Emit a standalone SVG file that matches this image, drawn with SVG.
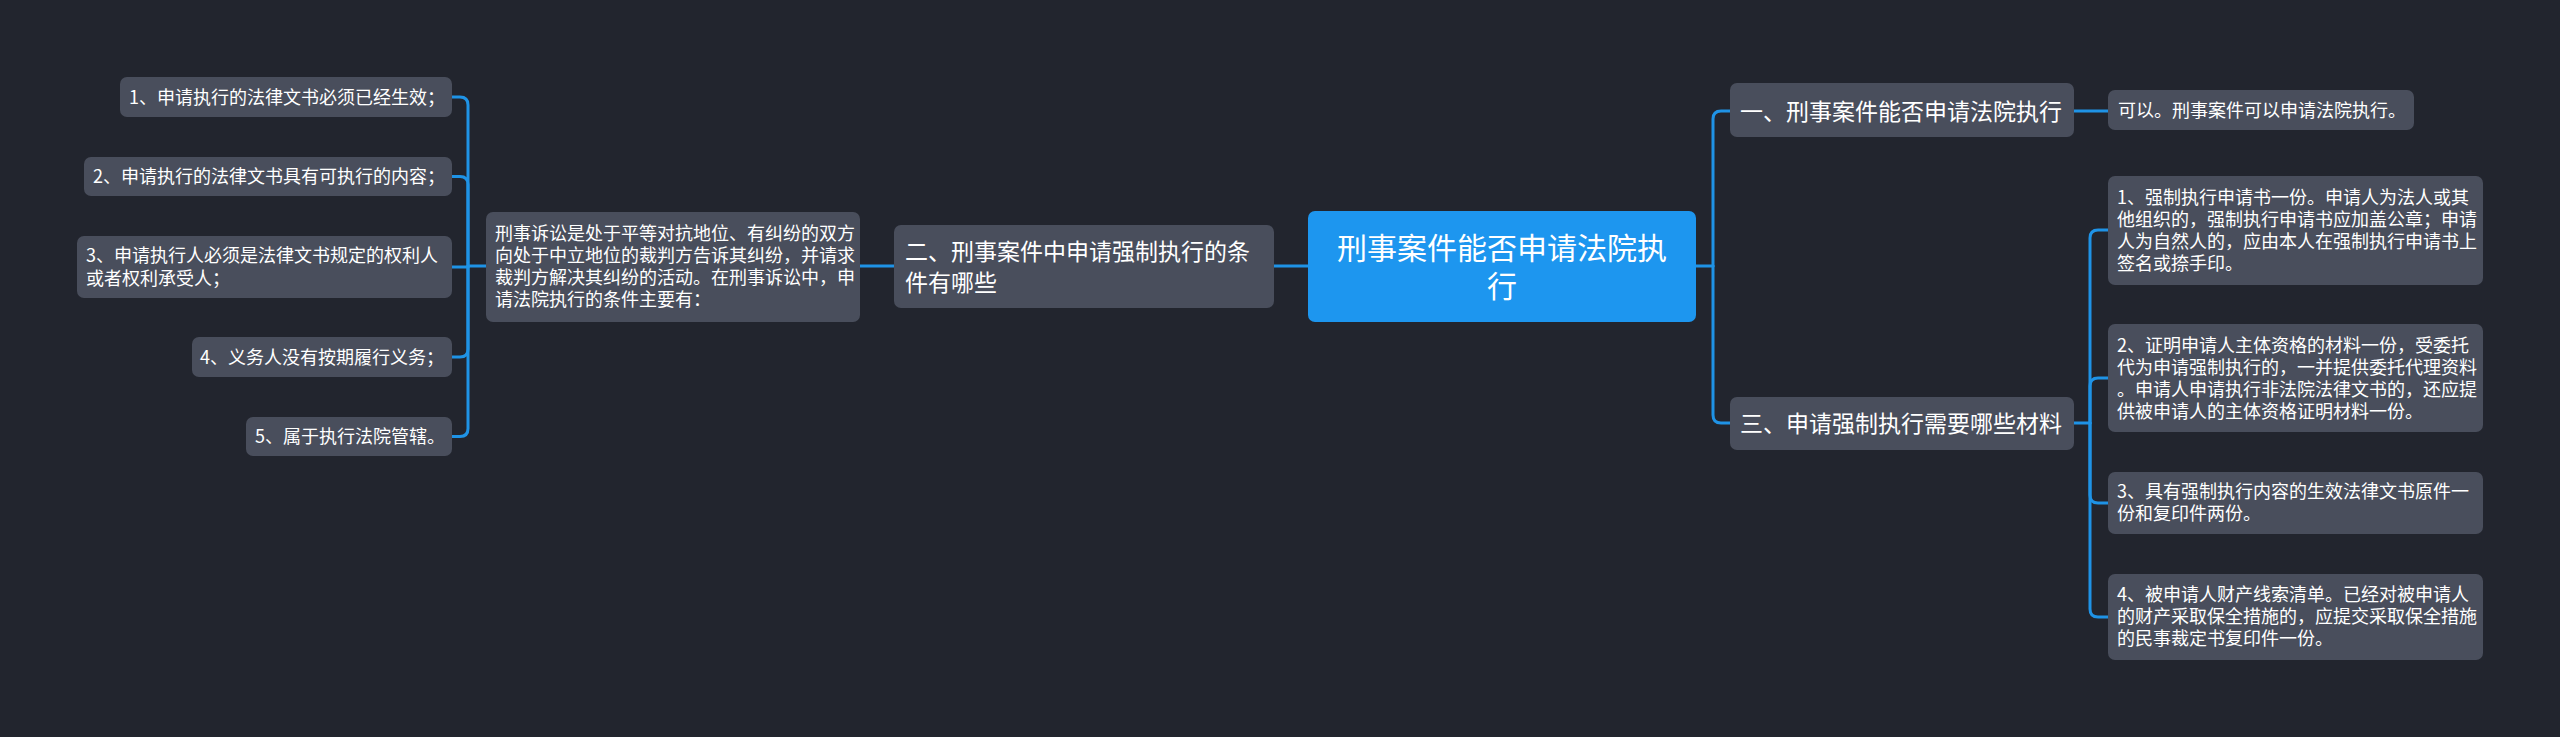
<svg xmlns="http://www.w3.org/2000/svg" width="2560" height="737" viewBox="0 0 2560 737">
<style>
.bg{fill:#22252e}
.n{fill:#494e5c}
.c{fill:#1d96ef}
.t{fill:#ffffff;font-family:"Noto Sans CJK SC","Noto Sans",sans-serif}
.s{font-size:18px}
.m{font-size:23px}
.l{font-size:30px}
.k{fill:none;stroke:#1f93e6;stroke-width:3;stroke-linecap:round;stroke-linejoin:round}
</style>
<rect class="bg" x="0" y="0" width="2560" height="737"/>
<g id="connectors">
<path class="k" d="M452,97 H460 Q468,97 468,105 V266 H486"/>
<path class="k" d="M452,176.5 H460 Q468,176.5 468,184.5 V266"/>
<path class="k" d="M452,267 H468"/>
<path class="k" d="M452,357 H460 Q468,357 468,349 V266"/>
<path class="k" d="M452,436.5 H460 Q468,436.5 468,428.5 V266"/>
<path class="k" d="M860,266 H894"/>
<path class="k" d="M1274,266 H1308"/>
<path class="k" d="M1696,266 H1713"/>
<path class="k" d="M1713,266 V119 Q1713,111 1721,111 H1730"/>
<path class="k" d="M1713,266 V415 Q1713,423 1721,423 H1730"/>
<path class="k" d="M2074,111 H2108"/>
<path class="k" d="M2074,423 H2090"/>
<path class="k" d="M2090,423 V238 Q2090,230 2098,230 H2108"/>
<path class="k" d="M2090,423 V386 Q2090,378 2098,378 H2108"/>
<path class="k" d="M2090,423 V495 Q2090,503 2098,503 H2108"/>
<path class="k" d="M2090,423 V609 Q2090,617 2098,617 H2108"/>
</g>
<g id="center">
<rect class="c" x="1308" y="211" width="388" height="111" rx="7"/>
<text class="t l" x="1502" y="259" text-anchor="middle">刑事案件能否申请法院执</text>
<text class="t l" x="1502" y="297" text-anchor="middle">行</text>
</g>
<g id="branch2">
<rect class="n" x="894" y="225" width="380" height="83" rx="7"/>
<text class="t m" x="905" y="260">二、刑事案件中申请强制执行的条</text>
<text class="t m" x="905" y="291">件有哪些</text>
</g>
<g id="desc">
<rect class="n" x="486" y="212" width="374" height="110" rx="7"/>
<text class="t s" x="495" y="240">刑事诉讼是处于平等对抗地位、有纠纷的双方</text>
<text class="t s" x="495" y="262">向处于中立地位的裁判方告诉其纠纷，并请求</text>
<text class="t s" x="495" y="284">裁判方解决其纠纷的活动。在刑事诉讼中，申</text>
<text class="t s" x="495" y="306">请法院执行的条件主要有：</text>
</g>
<g id="left1">
<rect class="n" x="120" y="77" width="332" height="40" rx="7"/>
<text class="t s" x="129" y="104">1、申请执行的法律文书必须已经生效；</text>
</g>
<g id="left2">
<rect class="n" x="84" y="157" width="368" height="39" rx="7"/>
<text class="t s" x="93" y="183">2、申请执行的法律文书具有可执行的内容；</text>
</g>
<g id="left3">
<rect class="n" x="77" y="236" width="375" height="62" rx="7"/>
<text class="t s" x="86" y="262">3、申请执行人必须是法律文书规定的权利人</text>
<text class="t s" x="86" y="285">或者权利承受人；</text>
</g>
<g id="left4">
<rect class="n" x="192" y="337" width="260" height="40" rx="7"/>
<text class="t s" x="200" y="364">4、义务人没有按期履行义务；</text>
</g>
<g id="left5">
<rect class="n" x="246" y="417" width="206" height="39" rx="7"/>
<text class="t s" x="255" y="443">5、属于执行法院管辖。</text>
</g>
<g id="branch1">
<rect class="n" x="1730" y="83" width="344" height="54" rx="7"/>
<text class="t m" x="1740" y="120">一、刑事案件能否申请法院执行</text>
</g>
<g id="leaf1">
<rect class="n" x="2108" y="90" width="306" height="40" rx="7"/>
<text class="t s" x="2118" y="117">可以。刑事案件可以申请法院执行。</text>
</g>
<g id="branch3">
<rect class="n" x="1730" y="397" width="344" height="53" rx="7"/>
<text class="t m" x="1740" y="432">三、申请强制执行需要哪些材料</text>
</g>
<g id="right1">
<rect class="n" x="2108" y="176" width="375" height="109" rx="7"/>
<text class="t s" x="2117" y="204">1、强制执行申请书一份。申请人为法人或其</text>
<text class="t s" x="2117" y="226">他组织的，强制执行申请书应加盖公章；申请</text>
<text class="t s" x="2117" y="248">人为自然人的，应由本人在强制执行申请书上</text>
<text class="t s" x="2117" y="270">签名或捺手印。</text>
</g>
<g id="right2">
<rect class="n" x="2108" y="324" width="375" height="108" rx="7"/>
<text class="t s" x="2117" y="352">2、证明申请人主体资格的材料一份，受委托</text>
<text class="t s" x="2117" y="374">代为申请强制执行的，一并提供委托代理资料</text>
<text class="t s" x="2117" y="396">。申请人申请执行非法院法律文书的，还应提</text>
<text class="t s" x="2117" y="418">供被申请人的主体资格证明材料一份。</text>
</g>
<g id="right3">
<rect class="n" x="2108" y="472" width="375" height="62" rx="7"/>
<text class="t s" x="2117" y="498">3、具有强制执行内容的生效法律文书原件一</text>
<text class="t s" x="2117" y="520">份和复印件两份。</text>
</g>
<g id="right4">
<rect class="n" x="2108" y="574" width="375" height="86" rx="7"/>
<text class="t s" x="2117" y="601">4、被申请人财产线索清单。已经对被申请人</text>
<text class="t s" x="2117" y="623">的财产采取保全措施的，应提交采取保全措施</text>
<text class="t s" x="2117" y="645">的民事裁定书复印件一份。</text>
</g>
</svg>
